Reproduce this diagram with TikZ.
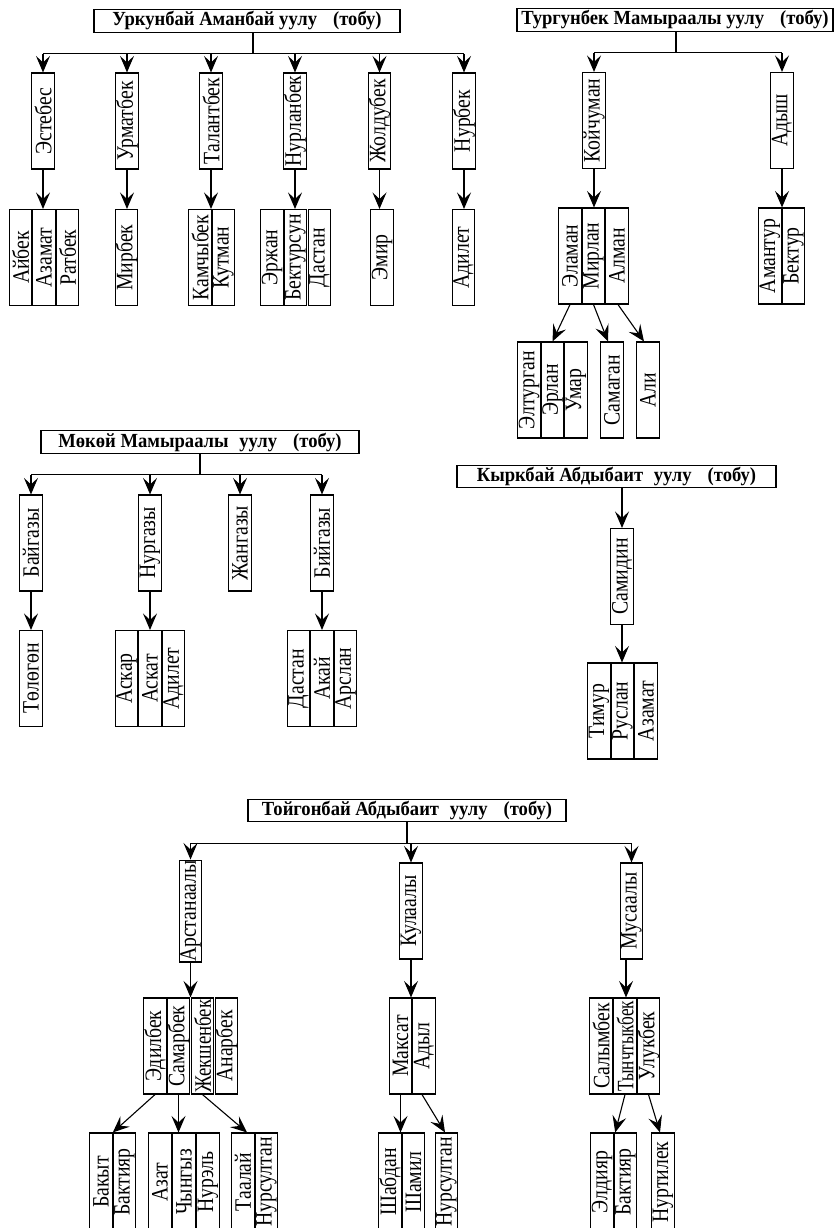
\documentclass[tikz,border=0pt]{standalone}
\usepackage{fontspec}
\setmainfont{Liberation Serif}
\newfontfamily\bodyf[FakeStretch=0.84]{Liberation Serif}
\newfontfamily\titlef[FakeStretch=0.93]{Liberation Serif}
\usetikzlibrary{arrows.meta}
\newcommand\pbx[4]{\node[pb] (#1) at (#2,#3) {\rotatebox{90}{#4}};}
\begin{document}
\begin{tikzpicture}[x=1pt,y=-1pt,
  pb/.style={draw, line width=1.1pt, minimum width=22.5pt, minimum height=96pt, inner sep=0pt,
             font=\bodyf\fontsize{23.5}{23.5}\selectfont},
  tb/.style={draw, line width=1.1pt, minimum height=22.5pt, inner sep=0pt,
             font=\titlef\bfseries\fontsize{20}{20}\selectfont},
  ln/.style={line width=1.1pt},
  arr/.style={line width=1.1pt, -{Stealth[length=16.5pt,width=14pt,inset=6.5pt]}}]
\useasboundingbox (0,0) rectangle (834,1228);

% ---------------- Group 1
\node[tb, minimum width=306pt] (t1) at (247,21) {Уркунбай Аманбай уулу\hspace{0.8em}(тобу)};
\pbx{a1}{43}{121}{Эстебес}
\pbx{a2}{127}{121}{Урматбек}
\pbx{a3}{211}{121}{Талантбек}
\pbx{a4}{295}{121}{Нурланбек}
\pbx{a5}{379.5}{121}{Жолдубек}
\pbx{a6}{464}{121}{Нурбек}
\pbx{c11}{20.5}{257.5}{Айбек}
\pbx{c12}{44}{257.5}{Азамат}
\pbx{c13}{67.5}{257.5}{Ратбек}
\pbx{c21}{126.5}{257.5}{Мирбек}
\pbx{c31}{200}{257.5}{Камчыбек}
\pbx{c32}{223.5}{257.5}{Кутман}
\pbx{c41}{272}{257.5}{Эржан}
\pbx{c42}{295.5}{257.5}{Бектурсун}
\pbx{c43}{319.5}{257.5}{Дастан}
\pbx{c51}{382}{257.5}{Эмир}
\pbx{c61}{463.5}{257.5}{Адилет}
\draw[ln] ([xshift=6pt]t1.south) -- ++(0,21) coordinate (b1);
\draw[ln] (a1.north |- b1) -- (a6.north |- b1);
\foreach \n in {a1,a2,a3,a4,a5,a6} \draw[arr] (\n.north |- b1) -- (\n.north);
\draw[arr] (a1.south) -- (a1.south |- c12.north);
\draw[arr] (a2.south) -- (a2.south |- c21.north);
\draw[arr] (a3.south) -- (a3.south |- c31.north);
\draw[arr] (a4.south) -- (a4.south |- c42.north);
\draw[arr] (a5.south) -- (a5.south |- c51.north);
\draw[arr] (a6.south) -- (a6.south |- c61.north);

% ---------------- Group 2
\node[tb, minimum width=316pt] (t2) at (675,20) {Тургунбек Мамыраалы уулу\hspace{0.8em}(тобу)};
\pbx{k1}{594}{120.5}{Койчуман}
\pbx{k2}{782}{120.5}{Адыш}
\pbx{m1}{570}{256}{Эламан}
\pbx{m2}{593.5}{256}{Мирлан}
\pbx{m3}{617}{256}{Алман}
\pbx{m4}{770}{256}{Амантур}
\pbx{m5}{793.5}{256}{Бектур}
\pbx{n1}{529}{390}{Элтурган}
\pbx{n2}{552.5}{390}{Эрлан}
\pbx{n3}{576}{390}{Умар}
\pbx{n4}{612}{390}{Самаган}
\pbx{n5}{648}{390}{Али}
\draw[ln] ([xshift=1pt]t2.south) -- ++(0,21) coordinate (b2);
\draw[ln] (k1.north |- b2) -- (k2.north |- b2);
\draw[arr] (k1.north |- b2) -- (k1.north);
\draw[arr] (k2.north |- b2) -- (k2.north);
\draw[arr] (k1.south) -- (k1.south |- m2.north);
\draw[arr] (k2.south) -- (k2.south |- m4.north);
\draw[arr] (m1.south) -- (n2.north);
\draw[arr] (m2.south) -- ([xshift=-4pt]n4.north);
\draw[arr] ([xshift=1pt]m3.south) -- ([xshift=-4pt]n5.north);

% ---------------- Group 3
\node[tb, minimum width=318pt] (t3) at (200,442) {Мөкөй Мамыраалы\hspace{0.3em} уулу\hspace{0.8em}(тобу)};
\pbx{p1}{31}{543}{Байгазы}
\pbx{p2}{150}{543}{Нургазы}
\pbx{p3}{240}{543}{Жангазы}
\pbx{p4}{322}{543}{Бийгазы}
\pbx{q1}{31}{678.5}{Төлөгөн}
\pbx{q2}{126.5}{678.5}{Аскар}
\pbx{q3}{150}{678.5}{Аскат}
\pbx{q4}{173.5}{678.5}{Адилет}
\pbx{q5}{298.5}{678.5}{Дастан}
\pbx{q6}{322}{678.5}{Акай}
\pbx{q7}{345.5}{678.5}{Арслан}
\draw[ln] (t3.south) -- ++(0,21) coordinate (b3);
\draw[ln] (p1.north |- b3) -- (p4.north |- b3);
\foreach \n in {p1,p2,p3,p4} \draw[arr] (\n.north |- b3) -- (\n.north);
\draw[arr] (p1.south) -- (p1.south |- q1.north);
\draw[arr] (p2.south) -- (p2.south |- q3.north);
\draw[arr] (p4.south) -- (p4.south |- q6.north);

% ---------------- Group 4
\node[tb, minimum width=319pt] (t4) at (616.5,476.5) {Кыркбай Абдыбаит\hspace{0.3em} уулу\hspace{0.8em}(тобу)};
\pbx{r1}{622}{576.5}{Самидин}
\pbx{s1}{599}{711}{Тимур}
\pbx{s2}{622.5}{711}{Руслан}
\pbx{s3}{646}{711}{Азамат}
\draw[arr] (r1.north |- t4.south) -- (r1.north);
\draw[arr] (r1.south) -- (r1.south |- s2.north);

% ---------------- Group 5
\node[tb, minimum width=318pt] (t5) at (407,810.5) {Тойгонбай Абдыбаит\hspace{0.3em} уулу\hspace{0.8em}(тобу)};
\pbx{u1}{190.5}{911}{Арстанаалы}
\pbx{u2}{411}{911}{Кулаалы}
\pbx{u3}{631.5}{911}{Мусаалы}
\pbx{v1}{155}{1046}{Эдилбек}
\pbx{v2}{178.5}{1046}{Самарбек}
\pbx{v3}{202.5}{1046}{\scalebox{0.95}[1]{Жекшенбек}}
\pbx{v4}{226.5}{1046}{Анарбек}
\pbx{v5}{400.5}{1046}{Максат}
\pbx{v6}{424}{1046}{Адыл}
\pbx{v7}{601}{1046}{Салымбек}
\pbx{v8}{625}{1046}{\scalebox{0.87}[1]{Тынчтыкбек}}
\pbx{v9}{648.5}{1046}{Улукбек}
\begin{scope}[pb/.append style={minimum height=98pt}]
\pbx{w1}{101}{1182}{Бакыт}
\pbx{w2}{124.5}{1182}{Бактияр}
\pbx{w3}{160}{1182}{Азат}
\pbx{w4}{184}{1182}{Чынгыз}
\pbx{w5}{208}{1182}{Нурэль}
\pbx{w6}{243}{1182}{Таалай}
\pbx{w7}{266.5}{1182}{Нурсултан}
\pbx{w8}{390}{1182}{Шабдан}
\pbx{w9}{413.5}{1182}{Шамил}
\pbx{w10}{446.5}{1182}{Нурсултан}
\pbx{w11}{602}{1182}{Элдияр}
\pbx{w12}{625.5}{1182}{Бактияр}
\pbx{w13}{663}{1182}{Нуртилек}
\end{scope}
\draw[ln] (t5.south) -- ++(0,21) coordinate (b5);
\draw[ln] (u1.north |- b5) -- (u3.north |- b5);
\foreach \n in {u1,u2,u3} \draw[arr] (\n.north |- b5) -- (\n.north);
\draw[arr] (u1.south) -- (u1.south |- v2.north);
\draw[arr] (u2.south) -- (u2.south |- v5.north);
\draw[arr] ([xshift=-5.5pt]u3.south) -- ([xshift=-5.5pt]u3.south |- v8.north);
\draw[arr] (v1.south) -- (w1.north east);
\draw[arr] (v2.south) -- (v2.south |- w4.north);
\draw[arr] (v3.south) -- ([xshift=4pt]w6.north);
\draw[arr] (v5.south) -- (v5.south |- w8.north);
\draw[arr] ([xshift=-2pt]v6.south) -- ([xshift=-1.5pt]w10.north);
\draw[arr] (v8.south) -- ([xshift=1.5pt]w12.north west);
\draw[arr] (v9.south) -- ([xshift=-3pt]w13.north);
\end{tikzpicture}
\end{document}
